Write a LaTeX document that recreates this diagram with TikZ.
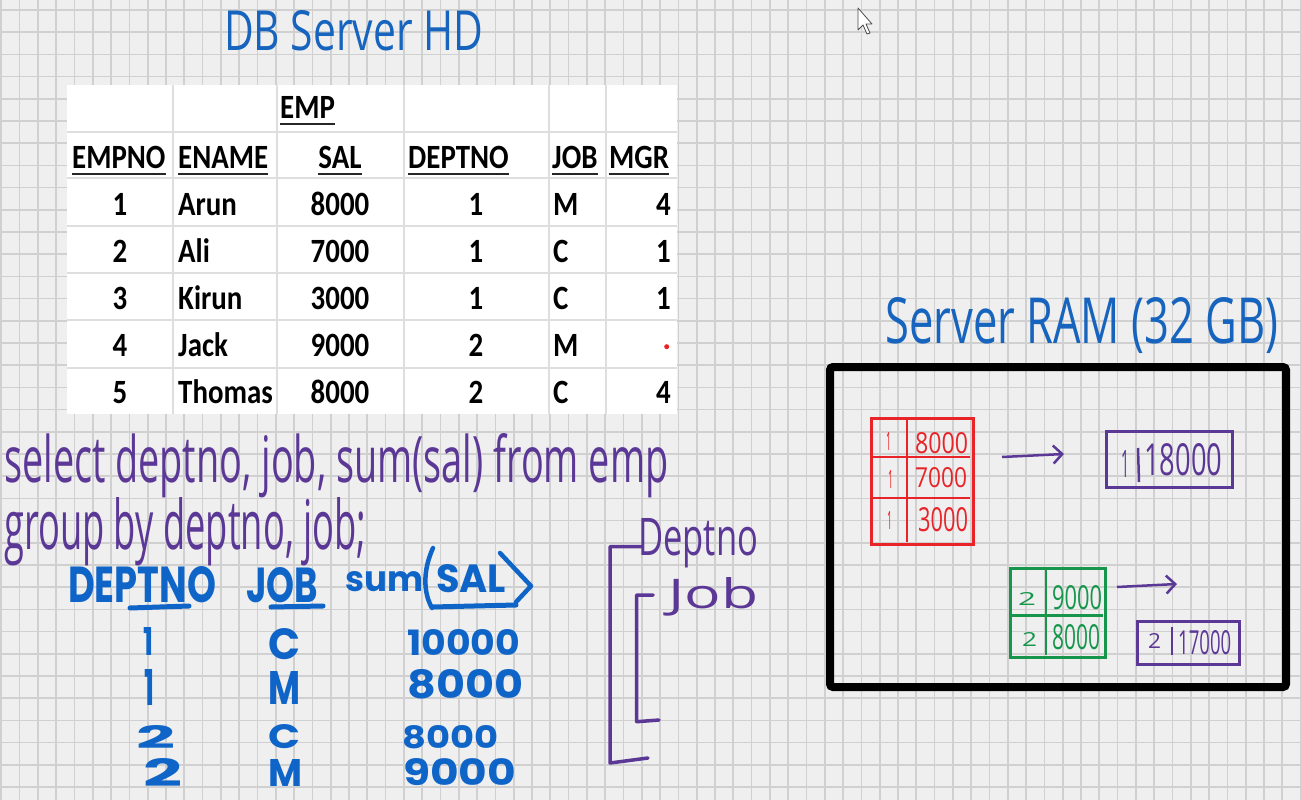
\documentclass[tikz,border=0pt]{standalone}
\usepackage{fontspec}
\usepackage{graphicx}
\setmainfont{Carlito}
\newfontfamily\tblfont{Carlito}[FakeStretch=0.85]
\newfontfamily\handfont{Open Sans}
\newfontfamily\markfont{Poppins}
\usetikzlibrary{arrows.meta}
\definecolor{bgc}{RGB}{239,239,239}
\definecolor{gridc}{RGB}{208,208,208}
\definecolor{cellc}{RGB}{222,222,222}
\definecolor{titleblue}{RGB}{22,100,190}
\definecolor{markblue}{RGB}{15,100,200}
\definecolor{pen}{RGB}{92,56,150}
\definecolor{redpen}{RGB}{232,36,40}
\definecolor{greenpen}{RGB}{22,150,75}
\newcommand{\fitto}[3]{\resizebox{#1pt}{#2pt}{#3}}
\newcommand{\fith}[2]{\resizebox{!}{#1pt}{#2}}
\tikzset{
  gridline/.style={draw=gridc, line width=1.7pt},
  cell/.style={draw=cellc, line width=1.5pt},
  tbl/.style={inner sep=0pt, font=\tblfont\bfseries\fontsize{34}{34}\selectfont},
  uline/.style={line width=2.6pt, black!85},
  hand/.style={inner sep=0pt, anchor=north west},
  penline/.style={draw=pen, line width=3.5pt, line join=round, line cap=round},
  penarrow/.style={draw=pen, line width=2.5pt, -{Straight Barb[length=9pt,width=18pt]}},
  bul/.style={draw=markblue, line width=5pt, line cap=round},
}
\begin{document}
\begin{tikzpicture}[x=1pt,y=-1pt]
\useasboundingbox (0,0) rectangle (1301,800);
\fill[bgc] (0,0) rectangle (1301,800);
\foreach \i in {0,...,71} \draw[gridline] ({1.3+18.3*\i},0) -- ++(0,800);
\foreach \j in {0,...,36} \draw[gridline] (0,{10+22.2*\j}) -- ++(1301,0);

% title
\node[hand, text=titleblue] (title) at (224,10) {\fitto{259}{40}{\handfont DB Server HD}};

% table
\fill[white] (67,85) rectangle (677,414);
\foreach \y in {132,178,226,273,320,368} \draw[cell] (67,\y) -- (677,\y);
\foreach \x in {173,277,404,549,606} \draw[cell] (\x,85) -- (\x,414);

\node[tbl, anchor=base west] (hemp) at (280,118) {EMP};
\node[tbl, anchor=base west] (h1) at (72,168) {EMPNO};
\node[tbl, anchor=base west] (h2) at (178,168) {ENAME};
\node[tbl, anchor=base] (h3) at (340,168) {SAL};
\node[tbl, anchor=base west] (h4) at (408,168) {DEPTNO};
\node[tbl, anchor=base west] (h5) at (552,168) {JOB};
\node[tbl, anchor=base west] (h6) at (609,168) {MGR};
\foreach \n in {hemp,h1,h2,h3,h4,h5,h6}
  \draw[uline] ([yshift=-6pt]\n.base west) -- ([yshift=-6pt]\n.base east);

\foreach \y/\no/\na/\sal/\dep/\job/\mgr [count=\r] in
  {215/1/Arun/8000/1/M/4, 262/2/Ali/7000/1/C/1, 309/3/Kirun/3000/1/C/1,
   356/4/Jack/9000/2/M/{}, 403/5/Thomas/8000/2/C/4}{
  \node[tbl, anchor=base] (no\r) at (120,\y) {\no};
  \node[tbl, anchor=base west] (na\r) at (178,\y) {\na};
  \node[tbl, anchor=base] (sa\r) at (340,\y) {\sal};
  \node[tbl, anchor=base] (de\r) at (476,\y) {\dep};
  \node[tbl, anchor=base west] (jo\r) at (553,\y) {\job};
  \node[tbl, anchor=base east] (mg\r) at (671,\y) {\mgr};
}
\fill[redpen] (666.7,346.7) circle (2.5);

% SQL text
\node[hand, text=pen] (sql1) at (4,433) {\fitto{664}{49}{\handfont select deptno, job, sum(sal) from emp}};
\node[hand, text=pen] (sql2) at (4,497) {\fitto{362}{52}{\handfont group by deptno, job;}};

% blue handwritten result
\begin{scope}[text=markblue, every node/.style={hand}]
\node (bdept) at (68,566) {\fitto{148}{36}{\markfont\bfseries DEPTNO}};
\node (bjob) at (246,567) {\fitto{72}{35}{\markfont\bfseries JOB}};
\node (bsum) at (345,571) {\fitto{78}{20}{\markfont\bfseries sum}};
\node (bsal) at (436,564) {\fitto{70}{28}{\markfont\bfseries SAL}};
\node (r1a) at (143,627) {\fitto{10}{28}{\markfont\bfseries 1}};
\node (r1b) at (268,628) {\fitto{32}{31}{\markfont\bfseries C}};
\node (r1c) at (407,629) {\fitto{113}{26}{\markfont\bfseries 10000}};
\node (r2a) at (144,669) {\fitto{10}{36}{\markfont\bfseries 1}};
\node (r2b) at (268,671) {\fitto{32}{33}{\markfont\bfseries M}};
\node (r2c) at (407,669) {\fitto{116}{29}{\markfont\bfseries 8000}};
\node (r3a) at (136,725) {\fitto{39}{23}{\markfont\bfseries 2}};
\node (r3b) at (268,724) {\fitto{32}{24}{\markfont\bfseries C}};
\node (r3c) at (402,725) {\fitto{96}{23}{\markfont\bfseries 8000}};
\node (r4a) at (143,758) {\fitto{39}{28}{\markfont\bfseries 2}};
\node (r4b) at (268,759) {\fitto{34}{27}{\markfont\bfseries M}};
\node (r4c) at (403,758) {\fitto{113}{27}{\markfont\bfseries 9000}};
\end{scope}
\draw[bul] (130,608) -- (189,606);
\draw[bul] (271,607) -- (323,606);
\draw[bul] (432,607) -- (516,605);
\draw[markblue, line width=4.5pt, line cap=round] (433,548) .. controls (423,570) and (423,592) .. (432,608);
\draw[markblue, line width=4.5pt, line cap=round, line join=round] (500,553) -- (531,586) -- (516,602);

% Deptno / Job brackets
\node[hand, text=pen] (dpt) at (638,518) {\fitto{120}{37}{\handfont Deptno}};
\node[hand, text=pen] (jb) at (668,577) {\fitto{90}{31}{\handfont Job}};
\draw[penline] (641.7,546.7) -- (610,546.7) -- (610,763) -- (648,758);
\draw[penline] (653,595) -- (636.7,595) -- (636.7,721.7) -- (659,720);

% Server RAM
\node[hand, text=titleblue] (ramtitle) at (885,297) {\fitto{393}{46}{\handfont Server RAM (32 GB)}};
\node[draw=black, line width=8pt, rounded corners=3pt, minimum width=456pt, minimum height=320pt, anchor=north west, inner sep=0pt] (ram) at (826,363) {};

% red table
\node[draw=redpen, line width=3pt, minimum width=102pt, minimum height=126pt, anchor=north west, inner sep=0pt] (redtab) at (870,417) {};
\draw[draw=redpen, line width=2.5pt] (907,418) -- (907,542);
\draw[draw=redpen, line width=2.5pt] (872,457) -- (970,457);
\draw[draw=redpen, line width=2.5pt] (872,498) -- (970,498);
\begin{scope}[text=redpen, every node/.style={hand}]
\node (ra1) at (886,432) {\fitto{5}{18}{\handfont 1}};
\node (rb1) at (915,432) {\fitto{53}{21}{\handfont 8000}};
\node (ra2) at (888,470) {\fitto{5}{18}{\handfont 1}};
\node (rb2) at (915,467) {\fitto{52}{20}{\handfont 7000}};
\node (ra3) at (887,511) {\fitto{5}{18}{\handfont 1}};
\node (rb3) at (918,507) {\fitto{50}{24}{\handfont 3000}};
\end{scope}

% green table
\node[draw=greenpen, line width=3pt, minimum width=95pt, minimum height=89pt, anchor=north west, inner sep=0pt] (greentab) at (1009,567) {};
\draw[draw=greenpen, line width=2.5pt] (1046,568) -- (1046,655);
\draw[draw=greenpen, line width=2.5pt] (1010,615.7) -- (1103,615.7);
\begin{scope}[text=greenpen, every node/.style={hand}]
\node (ga1) at (1018,592) {\fitto{18}{13}{\handfont 2}};
\node (gb1) at (1052,585) {\fitto{50}{24}{\handfont 9000}};
\node (ga2) at (1022,632) {\fitto{15}{14}{\handfont 2}};
\node (gb2) at (1052,624) {\fitto{48}{25}{\handfont 8000}};
\end{scope}

% purple result boxes
\node[draw=pen, line width=3pt, minimum width=126pt, minimum height=56pt, anchor=north west, inner sep=0pt] (sum1) at (1105,430) {};
\draw[draw=pen, line width=2.5pt] (1138,448) -- (1139,482);
\node[hand, text=pen] (s1a) at (1121,450) {\fitto{8}{27}{\handfont 1}};
\node[hand, text=pen] (s1b) at (1144,443) {\fitto{78}{32}{\handfont 18000}};

\node[draw=pen, line width=3pt, minimum width=102pt, minimum height=43pt, anchor=north west, inner sep=0pt] (sum2) at (1136,620) {};
\draw[draw=pen, line width=2.5pt] (1172,627) -- (1172,655);
\node[hand, text=pen] (s2a) at (1148,633) {\fitto{13}{15}{\handfont 2}};
\node[hand, text=pen] (s2b) at (1178,630) {\fitto{53}{24}{\handfont 17000}};

% arrows
\coordinate (a1s) at (1002,457);
\coordinate (a1e) at (1064,454);
\coordinate (a2s) at (1117,587);
\coordinate (a2e) at (1177,584);
\draw[penarrow] (a1s) -- (a1e);
\draw[penarrow] (a2s) -- (a2e);

% mouse cursor
\draw[black!70, fill=white, line width=0.8pt, line join=round] (858,8) -- (858,30) -- (863,25) -- (867,34) -- (870,33) -- (866,24) -- (872,24) -- cycle;
\end{tikzpicture}
\end{document}
